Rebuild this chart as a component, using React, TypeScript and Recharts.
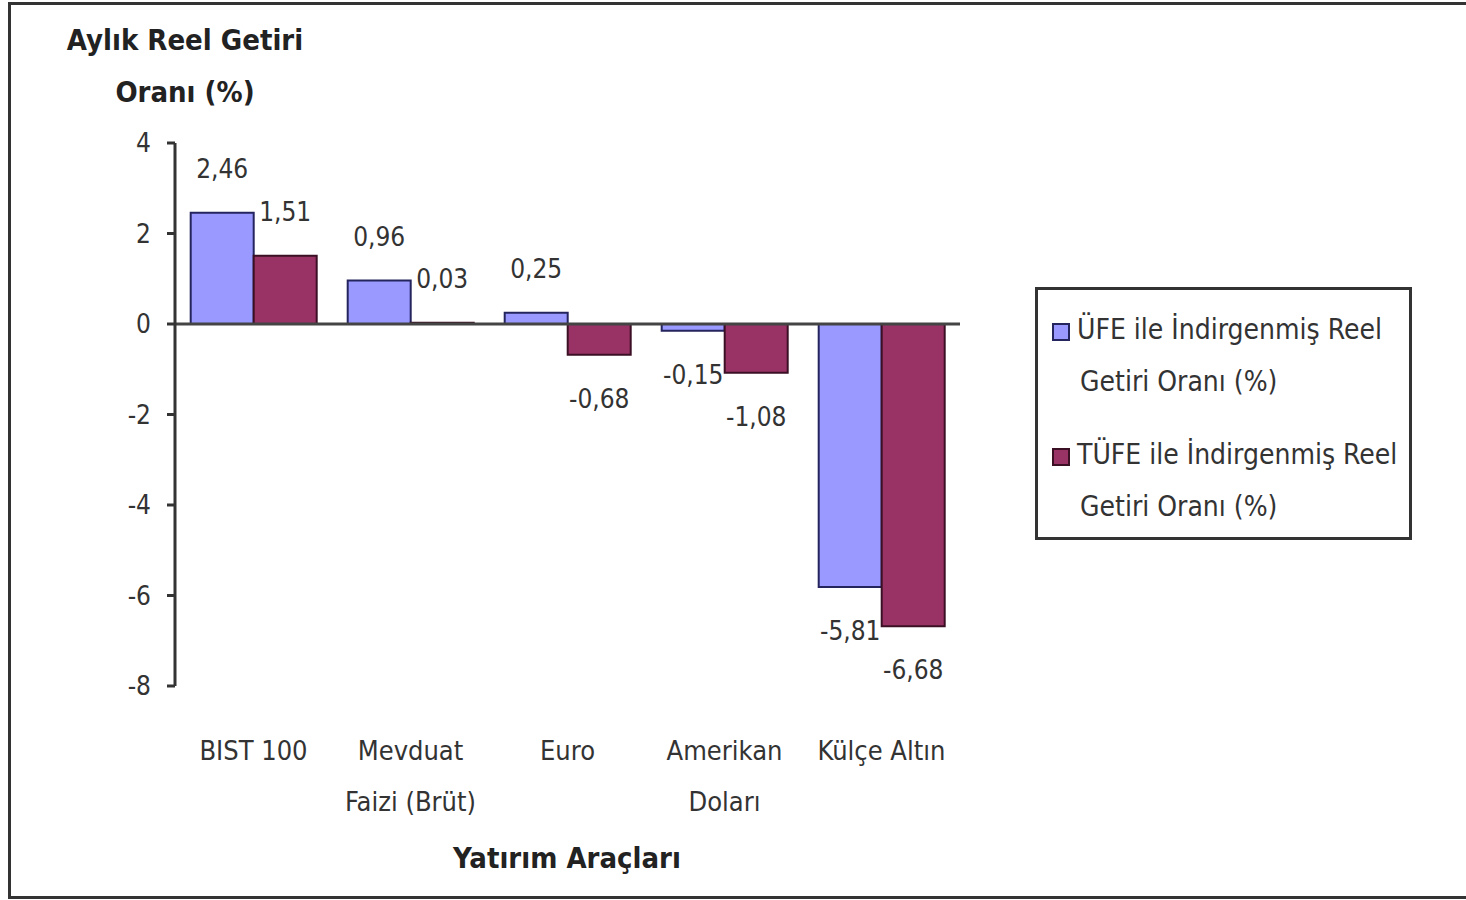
import React from "react";
import { BarChart, Bar, XAxis, YAxis, ReferenceLine, LabelList } from "recharts";

const categories = ["BIST 100", "Mevduat\nFaizi (Brüt)", "Euro", "Amerikan\nDoları", "Külçe Altın"];
const ufeValues = [2.46, 0.96, 0.25, -0.15, -5.81];
const tufeValues = [1.51, 0.03, -0.68, -1.08, -6.68];
const yTicks = [-8, -6, -4, -2, 0, 2, 4];
const ufeName = "ÜFE ile İndirgenmiş Reel\nGetiri Oranı (%)";
const tufeName = "TÜFE ile İndirgenmiş Reel\nGetiri Oranı (%)";

const UFE_COLOR = "#9999ff";
const TUFE_COLOR = "#993366";
const FONT = "'DejaVu Sans', sans-serif";
const TEXT = "#333";
const cond: React.CSSProperties = { fontStretch: "condensed" };

const data = categories.map((name, i) => ({
  name,
  ufe: ufeValues[i],
  tufe: tufeValues[i],
}));

const legendItems = [
  { name: ufeName, color: UFE_COLOR, border: "#24245e" },
  { name: tufeName, color: TUFE_COLOR, border: "#3b1024" },
];

function fmt(v: number) {
  return v.toFixed(2).replace(".", ",");
}

function ValueLabel(props: any) {
  const { x, y, width, height, value } = props;
  const top = Math.min(y, y + height);
  const bottom = Math.max(y, y + height);
  const cy = value >= 0 ? top - 44 : bottom + 44;
  return (
    <text
      x={x + width / 2}
      y={cy}
      textAnchor="middle"
      dominantBaseline="central"
      fontFamily={FONT}
      fontSize={26}
      fill={TEXT}
      style={cond}
    >
      {fmt(value)}
    </text>
  );
}

function CategoryTick({ x, y, payload }: any) {
  const lines = String(payload.value).split("\n");
  return (
    <g>
      {lines.map((l, i) => (
        <text
          key={i}
          x={x}
          y={y + 64 + i * 51}
          textAnchor="middle"
          dominantBaseline="central"
          fontFamily={FONT}
          fontSize={27}
          fill={TEXT}
          style={cond}
        >
          {l}
        </text>
      ))}
    </g>
  );
}

function LegendBox() {
  return (
    <div
      style={{
        position: "absolute",
        left: 1035,
        top: 287,
        width: 371,
        height: 247,
        border: "3px solid #333",
        fontFamily: FONT,
        fontStretch: "condensed",
        fontSize: 28,
        color: TEXT,
      }}
    >
      {legendItems.map((p, i) => {
        const lines = p.name.split("\n");
        return (
          <div key={i} style={{ position: "absolute", left: 14, top: 20 + i * 125 }}>
            <span
              style={{
                position: "absolute",
                left: 0,
                top: 13,
                width: 14,
                height: 14,
                background: p.color,
                border: `2px solid ${p.border}`,
              }}
            />
            {lines.map((l, j) => (
              <div
                key={j}
                style={{
                  position: "absolute",
                  left: j === 0 ? 25 : 28,
                  top: j * 52,
                  whiteSpace: "nowrap",
                  lineHeight: "40px",
                }}
              >
                {l}
              </div>
            ))}
          </div>
        );
      })}
    </div>
  );
}

export default function App() {
  return (
    <div style={{ position: "absolute", left: 0, top: 0, width: 1466, height: 900, overflow: "hidden", background: "#fff" }}>
      <div
        style={{
          position: "absolute",
          left: 8,
          top: 2,
          width: 1470,
          height: 891,
          border: "3px solid #333",
        }}
      />
      <div
        style={{
          position: "absolute",
          left: 60,
          top: 14,
          width: 250,
          textAlign: "center",
          fontFamily: FONT,
          fontStretch: "condensed",
          fontWeight: "bold",
          fontSize: 29,
          lineHeight: "52px",
          color: "#222",
        }}
      >
        Aylık Reel Getiri
        <br />
        Oranı (%)
      </div>
      <div
        style={{
          position: "absolute",
          left: 417,
          top: 837,
          width: 300,
          textAlign: "center",
          fontFamily: FONT,
          fontStretch: "condensed",
          fontWeight: "bold",
          fontSize: 29,
          lineHeight: "42px",
          color: "#222",
        }}
      >
        Yatırım Araçları
      </div>
      <LegendBox />
      <div style={{ position: "absolute", left: 0, top: 0 }}>
        <BarChart
          width={1466}
          height={900}
          data={data}
          margin={{ top: 143, right: 506, bottom: 34, left: 115 }}
          barCategoryGap="10%"
          barGap={0}
        >
          <XAxis
            dataKey="name"
            axisLine={false}
            tickLine={false}
            tickSize={0}
            tickMargin={0}
            height={180}
            interval={0}
            tick={<CategoryTick />}
          />
          <YAxis
            domain={[-8, 4]}
            ticks={yTicks}
            width={60}
            axisLine={{ stroke: "#333", strokeWidth: 3 }}
            tickLine={{ stroke: "#333", strokeWidth: 3 }}
            tickSize={8}
            tickMargin={16}
            tick={{ fontFamily: FONT, fontSize: 26, fill: TEXT, style: cond }}
          />
          <Bar dataKey="ufe" name={ufeName} fill={UFE_COLOR} stroke="#24245e" strokeWidth={2} isAnimationActive={false}>
            <LabelList dataKey="ufe" content={<ValueLabel />} />
          </Bar>
          <Bar dataKey="tufe" name={tufeName} fill={TUFE_COLOR} stroke="#3b1024" strokeWidth={2} isAnimationActive={false}>
            <LabelList dataKey="tufe" content={<ValueLabel />} />
          </Bar>
          <ReferenceLine y={0} stroke="#444" strokeWidth={3} />
        </BarChart>
      </div>
    </div>
  );
}
